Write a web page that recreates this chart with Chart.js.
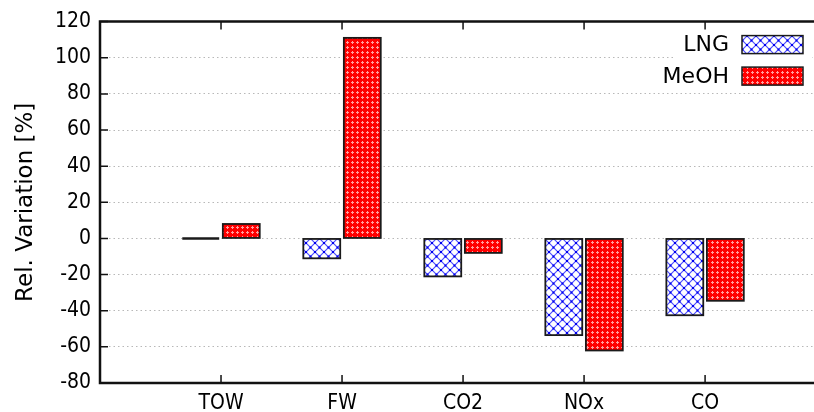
<!DOCTYPE html>
<html lang="en">
<head>
  <meta charset="UTF-8">
  <title>Rel. Variation</title>
  <script src="https://cdn.jsdelivr.net/npm/chart.js"></script>
  <style>
    body { margin: 0; background: white; }
    canvas { display: block; }
  </style>
</head>
<body>
  <canvas id="chart" width="814" height="412"></canvas>
  <script>
    // data
    const categories = ['TOW', 'FW', 'CO2', 'NOx', 'CO'];
    const seriesNames = ['LNG', 'MeOH'];
    const lngValues = [0, -11, -21, -53.5, -42.5];
    const meohValues = [8, 111, -8, -62, -34.5];
    const yMin = -80, yMax = 120, yStep = 20;
    // x runs 0..6 in the source plot, only up to ~5.9 is visible
    const xMin = 0, xMax = 5.9;

    // categories sit at x = 1..5
    const toPoints = arr => arr.map((v, i) => ({ x: i + 1, y: v }));

    function makePattern(size, draw) {
      const c = document.createElement('canvas');
      c.width = c.height = size;
      const g = c.getContext('2d');
      draw(g, size);
      return g.createPattern(c, 'repeat');
    }

    // blue crosshatch on white
    const lngFill = makePattern(9, (g, s) => {
      g.fillStyle = '#fff';
      g.fillRect(0, 0, s, s);
      g.strokeStyle = '#4d4dff';
      g.lineWidth = 1.2;
      g.beginPath();
      g.moveTo(0, 0); g.lineTo(s, s);
      g.moveTo(s, 0); g.lineTo(0, s);
      g.stroke();
      g.fillStyle = '#0000ee';
      g.fillRect(s / 2 - 1, s / 2 - 1, 2, 2);
      g.fillRect(0, 0, 1, 1); g.fillRect(s - 1, 0, 1, 1);
      g.fillRect(0, s - 1, 1, 1); g.fillRect(s - 1, s - 1, 1, 1);
    });

    // red with small light crosses
    const meohFill = makePattern(5, (g, s) => {
      g.fillStyle = '#ff0000';
      g.fillRect(0, 0, s, s);
      g.fillStyle = '#ffa0a0';
      g.fillRect(2, 1, 1, 3);
      g.fillRect(1, 2, 3, 1);
    });

    const framePlugin = {
      id: 'frame',
      afterDatasetsDraw(chart) {
        const { ctx, chartArea: a, scales: { x, y } } = chart;
        ctx.save();

        // bar outlines (also shows the zero-height bar as a line)
        ctx.strokeStyle = '#1a1a1a';
        ctx.lineWidth = 1.8;
        chart.data.datasets.forEach((ds, i) => {
          chart.getDatasetMeta(i).data.forEach(bar => {
            const top = Math.min(bar.y, bar.base);
            const h = Math.abs(bar.y - bar.base);
            if (h < 1) {
              // zero bar: gnuplot shows it as a heavy line
              ctx.save();
              ctx.lineWidth = 2.6;
              ctx.beginPath();
              ctx.moveTo(bar.x - bar.width / 2, top);
              ctx.lineTo(bar.x + bar.width / 2, top);
              ctx.stroke();
              ctx.restore();
              return;
            }
            ctx.strokeRect(bar.x - bar.width / 2, top, bar.width, h);
          });
        });

        // key, on a white box like the source
        ctx.fillStyle = '#fff';
        ctx.fillRect(676, a.top + 2, 136, 66);
        seriesNames.forEach((name, i) => {
          const cy = a.top + 23 + i * 31.5;
          ctx.fillStyle = chart.data.datasets[i].backgroundColor;
          ctx.fillRect(742, cy - 9, 61, 18);
          ctx.lineWidth = 1.5;
          ctx.strokeStyle = '#1a1a1a';
          ctx.strokeRect(742, cy - 9, 61, 18);
          ctx.fillStyle = '#000';
          ctx.font = '22px "DejaVu Sans"';
          ctx.textAlign = 'right';
          ctx.textBaseline = 'middle';
          ctx.fillText(name, 729, cy + 1);
        });

        // frame (left, top, bottom) and inward ticks
        ctx.strokeStyle = '#111';
        ctx.lineWidth = 1.5;
        ctx.beginPath();
        y.ticks.forEach(t => {
          const py = y.getPixelForValue(t.value);
          ctx.moveTo(a.left, py); ctx.lineTo(a.left + 8, py);
        });
        x.ticks.forEach(t => {
          const px = x.getPixelForValue(t.value);
          ctx.moveTo(px, a.bottom); ctx.lineTo(px, a.bottom - 8);
          ctx.moveTo(px, a.top); ctx.lineTo(px, a.top + 8);
        });
        ctx.stroke();
        ctx.lineWidth = 2.5;
        ctx.beginPath();
        ctx.moveTo(a.right, a.top); ctx.lineTo(a.left, a.top);
        ctx.lineTo(a.left, a.bottom); ctx.lineTo(a.right, a.bottom);
        ctx.stroke();
        ctx.restore();
      }
    };

    const tickFont = { family: '"DejaVu Sans Condensed"', size: 21 };

    new Chart(document.getElementById('chart'), {
      type: 'bar',
      data: {
        datasets: [
          { label: seriesNames[0], data: toPoints(lngValues), backgroundColor: lngFill, borderWidth: 0,
            categoryPercentage: 0.67, barPercentage: 0.91 },
          { label: seriesNames[1], data: toPoints(meohValues), backgroundColor: meohFill, borderWidth: 0,
            categoryPercentage: 0.67, barPercentage: 0.91 }
        ]
      },
      options: {
        responsive: false,
        animation: false,
        layout: { padding: { top: 20, right: 0, left: 0, bottom: 0 } },
        plugins: {
          legend: { display: false },
          tooltip: { enabled: false }
        },
        scales: {
          x: {
            type: 'linear',
            min: xMin,
            max: xMax,
            offset: false,
            grid: { display: false, drawTicks: false },
            border: { display: false },
            afterBuildTicks: s => { s.ticks = categories.map((c, i) => ({ value: i + 1 })); },
            ticks: {
              autoSkip: false, maxRotation: 0, padding: 8, color: '#000', font: tickFont,
              callback: v => categories[v - 1]
            },
            afterFit: s => { s.height = 29; }
          },
          y: {
            min: yMin,
            max: yMax,
            ticks: { stepSize: yStep, padding: 9, color: '#000', font: tickFont },
            grid: {
              drawTicks: false,
              lineWidth: 1,
              color: c => (c.tick && (c.tick.value === yMin || c.tick.value === yMax)) ? 'rgba(0,0,0,0)' : '#b8b8b8'
            },
            border: { display: false, dash: [1.5, 3] },
            title: {
              display: true,
              text: 'Rel. Variation [%]',
              color: '#000',
              font: { family: '"DejaVu Sans"', size: 23 },
              padding: { top: 12, bottom: 0 }
            },
            afterFit: s => { s.width = 100; }
          }
        }
      },
      plugins: [framePlugin]
    });
  </script>
</body>
</html>
